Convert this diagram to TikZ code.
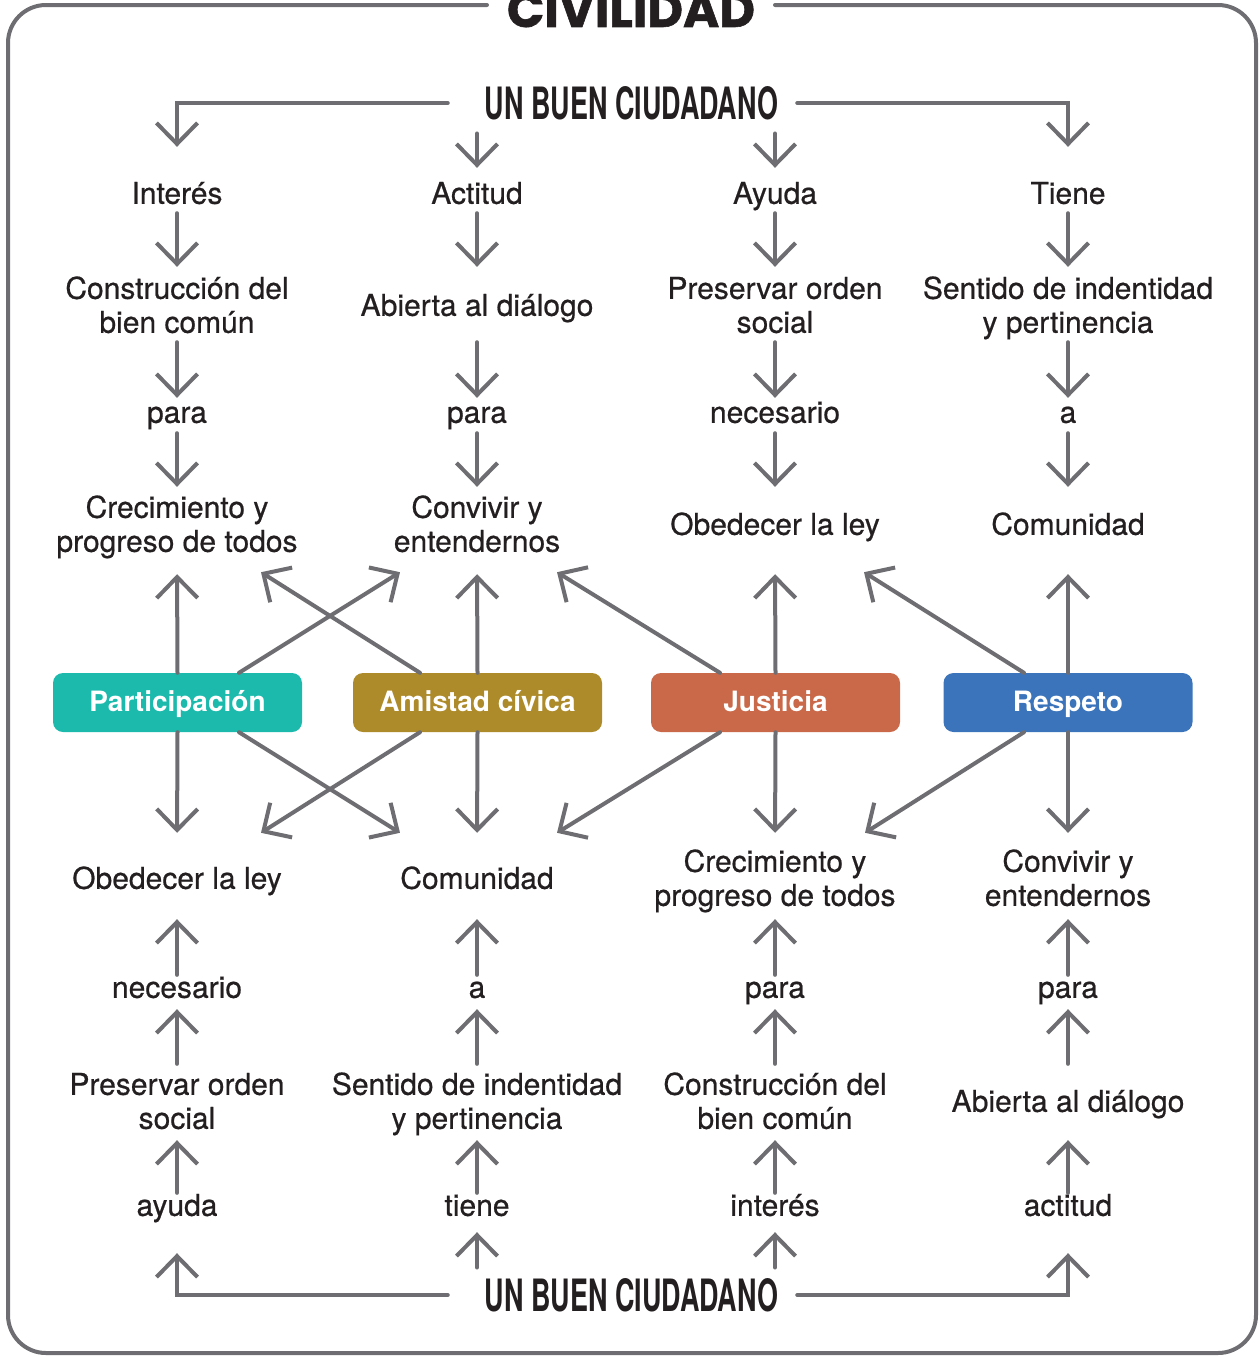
\documentclass[tikz,border=0pt]{standalone}
\usepackage{fontspec}
\setmainfont{TeX Gyre Heros}
\newfontfamily\medfont{TeX Gyre Heros}[FakeBold=0.6]
\newfontfamily\titlefont{Poppins}[BoldFeatures={FakeBold=1.2}]
\usetikzlibrary{arrows.meta,calc}
\definecolor{lg}{HTML}{6E6E72}
\definecolor{ink}{HTML}{231F20}
\definecolor{cpart}{HTML}{1BBAAD}
\definecolor{camis}{HTML}{AD8B2B}
\definecolor{cjust}{HTML}{C9694A}
\definecolor{cresp}{HTML}{3B74BA}
\begin{document}
\begin{tikzpicture}[x=1pt,y=-1pt,
  lbl/.style={font=\medfont\fontsize{30}{34}\selectfont, text=ink, align=center, inner sep=0pt},
  two/.style={minimum height=68pt},
  one/.style={minimum height=34pt},
  vbox/.style={rounded corners=10pt, minimum width=249pt, minimum height=59pt, text=white, font=\fontsize{28}{32}\selectfont\bfseries, inner sep=0pt, text height=20pt, text depth=2pt},
  con/.style={draw=lg, line width=4pt, line cap=round, line join=miter, -{Straight Barb[length=21pt,width=41pt]}},
  ttl/.style={inner sep=0pt, text=ink}
]
\useasboundingbox (0,0) rectangle (1260,1357);

% frame
\draw[lg, line width=4pt, line cap=round, rounded corners=38pt] (487,5) -- (8,5) -- (8,1353) -- (1256,1353) -- (1256,5) -- (775,5);

% titles
\node[ttl, anchor=base] (civ) at (631,27) {\resizebox{248pt}{!}{\titlefont\bfseries CIVILIDAD}};
\node[ttl] (top) at (631.5,103) {\resizebox{293pt}{33pt}{\bfseries UN BUEN CIUDADANO}};
\node[ttl] (bot) at (631.5,1295) {\resizebox{293pt}{33pt}{\bfseries UN BUEN CIUDADANO}};

% top rows
\node[lbl,one] (t1a) at (177,197) {\strut Interés};
\node[lbl,one] (t1b) at (477,197) {\strut Actitud};
\node[lbl,one] (t1c) at (775,197) {\strut Ayuda};
\node[lbl,one] (t1d) at (1068,197) {\strut Tiene};

\node[lbl,two] (t2a) at (177,309) {\strut Construcción del\\\strut bien común};
\node[lbl,two] (t2b) at (477,309) {\strut Abierta al diálogo};
\node[lbl,two] (t2c) at (775,309) {\strut Preservar orden\\\strut social};
\node[lbl,two] (t2d) at (1068,309) {\strut Sentido de indentidad\\\strut y pertinencia};

\node[lbl,one] (t3a) at (177,416) {\strut para};
\node[lbl,one] (t3b) at (477,416) {\strut para};
\node[lbl,one] (t3c) at (775,416) {\strut necesario};
\node[lbl,one] (t3d) at (1068,416) {\strut a};

\node[lbl,two] (t4a) at (177,528) {\strut Crecimiento y\\\strut progreso de todos};
\node[lbl,two] (t4b) at (477,528) {\strut Convivir y\\\strut entendernos};
\node[lbl,two] (t4c) at (775,528) {\strut Obedecer la ley};
\node[lbl,two] (t4d) at (1068,528) {\strut Comunidad};

% value boxes
\node[vbox, fill=cpart] (part) at (177.5,702.5) {Participación};
\node[vbox, fill=camis] (amis) at (477.5,702.5) {Amistad cívica};
\node[vbox, fill=cjust] (just) at (775.5,702.5) {Justicia};
\node[vbox, fill=cresp] (resp) at (1068,702.5) {Respeto};

% bottom rows
\node[lbl,two] (t5a) at (177,882) {\strut Obedecer la ley};
\node[lbl,two] (t5b) at (477,882) {\strut Comunidad};
\node[lbl,two] (t5c) at (775,882) {\strut Crecimiento y\\\strut progreso de todos};
\node[lbl,two] (t5d) at (1068,882) {\strut Convivir y\\\strut entendernos};

\node[lbl,one] (t6a) at (177,991) {\strut necesario};
\node[lbl,one] (t6b) at (477,991) {\strut a};
\node[lbl,one] (t6c) at (775,991) {\strut para};
\node[lbl,one] (t6d) at (1068,991) {\strut para};

\node[lbl,two] (t7a) at (177,1105) {\strut Preservar orden\\\strut social};
\node[lbl,two] (t7b) at (477,1105) {\strut Sentido de indentidad\\\strut y pertinencia};
\node[lbl,two] (t7c) at (775,1105) {\strut Construcción del\\\strut bien común};
\node[lbl,two] (t7d) at (1068,1105) {\strut Abierta al diálogo};

\node[lbl,one] (t8a) at (177,1209) {\strut ayuda};
\node[lbl,one] (t8b) at (477,1209) {\strut tiene};
\node[lbl,one] (t8c) at (775,1209) {\strut interés};
\node[lbl,one] (t8d) at (1068,1209) {\strut actitud};

% top connectors
\draw[con, shorten <=37pt, shorten >=33pt] (top.west) -| (t1a.north);
\draw[con, shorten <=19pt, shorten >=33pt] (top.east) -| (t1d.north);
\draw[con, shorten <=13.5pt, shorten >=12pt] (top.south -| t1b.north) -- (t1b.north);
\draw[con, shorten <=13.5pt, shorten >=12pt] (top.south -| t1c.north) -- (t1c.north);

\foreach \c in {a,b,c,d}{
  \draw[con, shorten <=-1pt, shorten >=8pt] (t1\c.south) -- (t2\c.north);
  \draw[con, shorten <=-1pt, shorten >=1pt] (t2\c.south) -- (t3\c.north);
  \draw[con, shorten >=7pt] (t3\c.south) -- (t4\c.north);
  \draw[con, shorten <=-1pt, shorten >=3pt] (t6\c.north) -- (t5\c.south);
  \draw[con, shorten <=7pt, shorten >=1pt] (t7\c.north) -- (t6\c.south);
  \draw[con, shorten <=-1pt, shorten >=1pt] (t8\c.north) -- (t7\c.south);
}

% box connectors (vertical)
\draw[con, shorten >=12pt] (part.north) -- (t4a.south);
\draw[con, shorten >=12pt] (amis.north) -- (t4b.south);
\draw[con, shorten >=12pt] (just.north) -- (t4c.south);
\draw[con, shorten >=12pt] (resp.north) -- (t4d.south);
\draw[con, shorten >=15pt] (part.south) -- (t5a.north);
\draw[con, shorten >=15pt] (amis.south) -- (t5b.north);
\draw[con, shorten >=15pt] (just.south) -- (t5c.north);
\draw[con, shorten >=15pt] (resp.south) -- (t5d.north);

% box connectors (diagonal)
\draw[con] ($(part.north)+(61.5,0)$) -- ($(t4b.south)+(-77,10)$);
\draw[con] ($(amis.north)+(-57.5,0)$) -- ($(t4a.south)+(84,10)$);
\draw[con] ($(just.north)+(-55.5,0)$) -- ($(t4b.south)+(80,10)$);
\draw[con] ($(resp.north)+(-44,0)$) -- ($(t4c.south)+(89,10)$);
\draw[con] ($(part.south)+(61.5,0)$) -- ($(t5b.north)+(-77,-15)$);
\draw[con] ($(amis.south)+(-57.5,0)$) -- ($(t5a.north)+(84,-15)$);
\draw[con] ($(just.south)+(-55.5,0)$) -- ($(t5b.north)+(80,-15)$);
\draw[con] ($(resp.south)+(-44,0)$) -- ($(t5c.north)+(90,-15)$);

% bottom connectors
\draw[con, shorten <=37pt, shorten >=27pt] (bot.west) -| (t8a.south);
\draw[con, shorten <=19pt, shorten >=27pt] (bot.east) -| (t8d.south);
\draw[con, shorten <=10.5pt, shorten >=6pt] (bot.north -| t8b.south) -- (t8b.south);
\draw[con, shorten <=10.5pt, shorten >=6pt] (bot.north -| t8c.south) -- (t8c.south);
\end{tikzpicture}
\end{document}
